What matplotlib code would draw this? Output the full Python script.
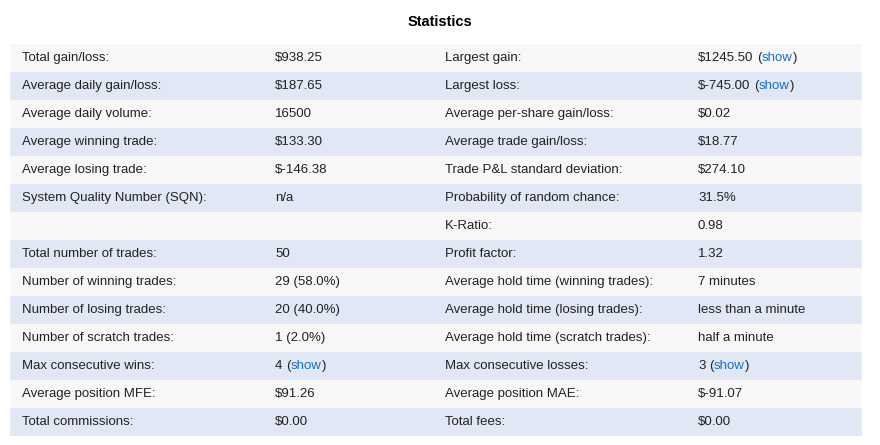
import matplotlib
matplotlib.use('Agg')
import matplotlib.pyplot as plt
from matplotlib.patches import Rectangle

plt.rcParams['font.family'] = ['Liberation Sans', 'DejaVu Sans']

# === data ===
left_labels = ["Total gain/loss:", "Average daily gain/loss:", "Average daily volume:",
               "Average winning trade:", "Average losing trade:", "System Quality Number (SQN):",
               "", "Total number of trades:", "Number of winning trades:",
               "Number of losing trades:", "Number of scratch trades:", "Max consecutive wins:",
               "Average position MFE:", "Total commissions:"]
left_values = ["$938.25", "$187.65", "16500", "$133.30", "$-146.38", "n/a", "", "50",
               "29 (58.0%)", "20 (40.0%)", "1 (2.0%)", "4", "$91.26", "$0.00"]
left_show = [False] * 11 + [True, False, False]

right_labels = ["Largest gain:", "Largest loss:", "Average per-share gain/loss:",
                "Average trade gain/loss:", "Trade P&L standard deviation:",
                "Probability of random chance:", "K-Ratio:", "Profit factor:",
                "Average hold time (winning trades):", "Average hold time (losing trades):",
                "Average hold time (scratch trades):", "Max consecutive losses:",
                "Average position MAE:", "Total fees:"]
right_values = ["$1245.50", "$-745.00", "$0.02", "$18.77", "$274.10", "31.5%", "0.98", "1.32",
                "7 minutes", "less than a minute", "half a minute", "3", "$-91.07", "$0.00"]
right_show = [True, True] + [False] * 9 + [True, False, False]

# === layout ===
W, H = 880, 445
top, row_h = 44, 28
x0, x1 = 10, 862
col_x = [22, 275, 445, 698]
fs = 9.5
link_color = '#1a6fc0'

fig = plt.figure(figsize=(W / 100, H / 100), dpi=100)
ax = fig.add_axes([0, 0, 1, 1])
ax.set_xlim(0, W)
ax.set_ylim(H, 0)
ax.axis('off')

ax.text(W / 2, 22, "Statistics", ha='center', va='center', fontsize=10.5, fontweight='bold')

fig.canvas.draw()
renderer = fig.canvas.get_renderer()


def value_with_show(x, y, val, show):
    t = ax.text(x, y, val, ha='left', va='center', fontsize=fs, color='#222222')
    if show:
        bb = t.get_window_extent(renderer=renderer)
        # pixel coords map 1:1 horizontally
        xe = bb.x1 + 4
        t1 = ax.text(xe, y, "(", ha='left', va='center', fontsize=fs, color='#222222')
        b1 = t1.get_window_extent(renderer=renderer)
        t2 = ax.text(b1.x1, y, "show", ha='left', va='center', fontsize=fs, color=link_color)
        b2 = t2.get_window_extent(renderer=renderer)
        ax.text(b2.x1, y, ")", ha='left', va='center', fontsize=fs, color='#222222')


for i in range(len(left_labels)):
    y = top + i * row_h
    color = '#f7f7f7' if i % 2 == 0 else '#e1e7f5'
    ax.add_patch(Rectangle((x0, y), x1 - x0, row_h, facecolor=color, edgecolor='none'))
    yc = y + row_h / 2
    ax.text(col_x[0], yc, left_labels[i], ha='left', va='center', fontsize=fs, color='#222222')
    value_with_show(col_x[1], yc, left_values[i], left_show[i])
    ax.text(col_x[2], yc, right_labels[i], ha='left', va='center', fontsize=fs, color='#222222')
    value_with_show(col_x[3], yc, right_values[i], right_show[i])

fig.savefig("out.png", dpi=100)
plt.close()
